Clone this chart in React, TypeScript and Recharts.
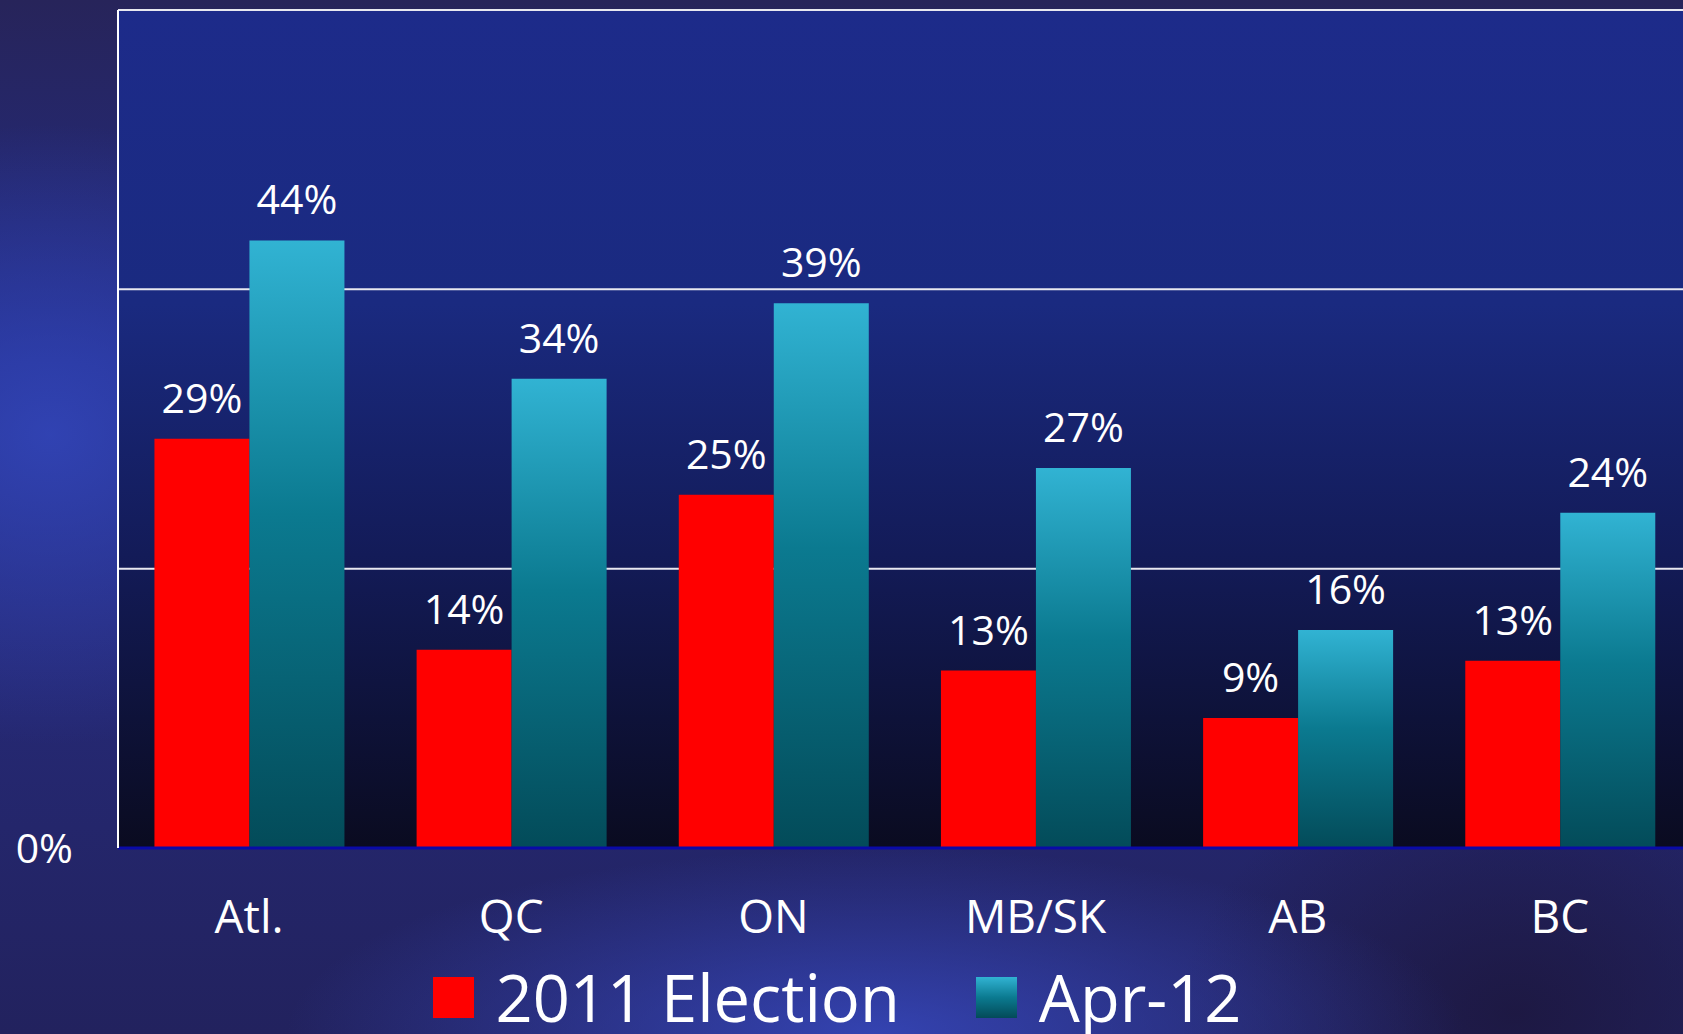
import { BarChart, Bar, XAxis, YAxis, CartesianGrid, Legend, LabelList } from "recharts";

const regions = ["Atl.", "QC", "ON", "MB/SK", "AB", "BC"];
// values as drawn (labels show them rounded)
const election2011 = [29.3, 14.2, 25.3, 12.7, 9.3, 13.4];
const apr12 = [43.5, 33.6, 39.0, 27.2, 15.6, 24.0];
const yTicks = [0, 20, 40, 60];

const seriesInfo = [
  { key: "election", name: "2011 Election", fill: "#ff0000" },
  { key: "apr", name: "Apr-12", fill: "url(#tealGrad)" },
];

const data = regions.map((region, i) => ({
  region,
  election: election2011[i],
  apr: apr12[i],
}));

const FONT = "'Open Sans', 'DejaVu Sans', sans-serif";

const LegendContent = () => (
  <div
    style={{
      display: "flex",
      justifyContent: "center",
      alignItems: "center",
      height: 74,
      paddingRight: 17,
      fontFamily: FONT,
      color: "#fff",
    }}
  >
    {seriesInfo.map((s, i) => (
      <div
        key={s.key}
        style={{ display: "flex", alignItems: "center", marginLeft: i === 0 ? 0 : 76 }}
      >
        <div
          style={{
            width: 41,
            height: 41,
            marginRight: 22,
            background:
              s.key === "election" ? "#ff0000" : "linear-gradient(180deg, #31b3d3 0%, #0b7a90 50%, #034a58 100%)",
          }}
        />
        <span style={{ fontSize: 65, lineHeight: "70px", whiteSpace: "nowrap" }}>{s.name}</span>
      </div>
    ))}
  </div>
);

export default function App() {
  return (
    <div
      style={{
        position: "fixed",
        left: 0,
        top: 0,
        width: 1683,
        height: 1034,
        overflow: "hidden",
        background:
          "radial-gradient(ellipse 22% 30% at 3% 42%, rgba(52,72,190,0.8), rgba(52,72,190,0) 100%)," +
          "radial-gradient(ellipse 35% 18% at 52% 100%, rgba(58,78,205,0.75), rgba(58,78,205,0) 100%)," +
          "radial-gradient(ellipse 20% 25% at 90% 98%, rgba(28,22,60,0.8), rgba(28,22,60,0) 100%)," +
          "linear-gradient(180deg, #27245a 0%, #222c86 35%, #262a78 60%, #22225e 100%)",
      }}
    >
      <BarChart
        width={1691}
        height={1034}
        data={data}
        margin={{ top: 10, right: 0, left: 0, bottom: 0 }}
        barCategoryGap="13.9%"
        barGap={0}
      >
        <defs>
          <linearGradient id="tealGrad" x1="0" y1="0" x2="0" y2="1">
            <stop offset="0%" stopColor="#31b3d3" />
            <stop offset="45%" stopColor="#0b7a90" />
            <stop offset="100%" stopColor="#034b59" />
          </linearGradient>
          <linearGradient id="plotGrad" x1="0" y1="0" x2="0" y2="1">
            <stop offset="0%" stopColor="#1d2b8a" />
            <stop offset="35%" stopColor="#1a2a80" />
            <stop offset="65%" stopColor="#131b58" />
            <stop offset="100%" stopColor="#0a0b20" />
          </linearGradient>
        </defs>
        <CartesianGrid
          vertical={false}
          stroke="#e8e8f0"
          strokeWidth={2}
          fill="url(#plotGrad)"
          fillOpacity={1}
        />
        <XAxis
          dataKey="region"
          height={112}
          tickSize={0}
          tickMargin={52}
          axisLine={{ stroke: "#0a0aa8", strokeWidth: 3 }}
          tickLine={false}
          tick={{ fill: "#ffffff", fontSize: 46, fontFamily: FONT }}
        />
        <YAxis
          width={118}
          domain={[0, 60]}
          ticks={yTicks}
          interval={0}
          tickSize={0}
          tickMargin={45}
          tickFormatter={(v: number) => (v === 0 ? "0%" : "")}
          axisLine={{ stroke: "#ffffff", strokeWidth: 2 }}
          tickLine={false}
          tick={{ fill: "#ffffff", fontSize: 41, fontFamily: FONT }}
        />
        <Legend verticalAlign="bottom" height={74} content={<LegendContent />} />
        {seriesInfo.map((s) => (
          <Bar key={s.key} dataKey={s.key} name={s.name} fill={s.fill} isAnimationActive={false}>
            <LabelList
              dataKey={s.key}
              position="top"
              offset={26}
              formatter={(v: number) => `${Math.round(v)}%`}
              fill="#ffffff"
              style={{ fontSize: 41, fontFamily: FONT }}
            />
          </Bar>
        ))}
      </BarChart>
    </div>
  );
}
